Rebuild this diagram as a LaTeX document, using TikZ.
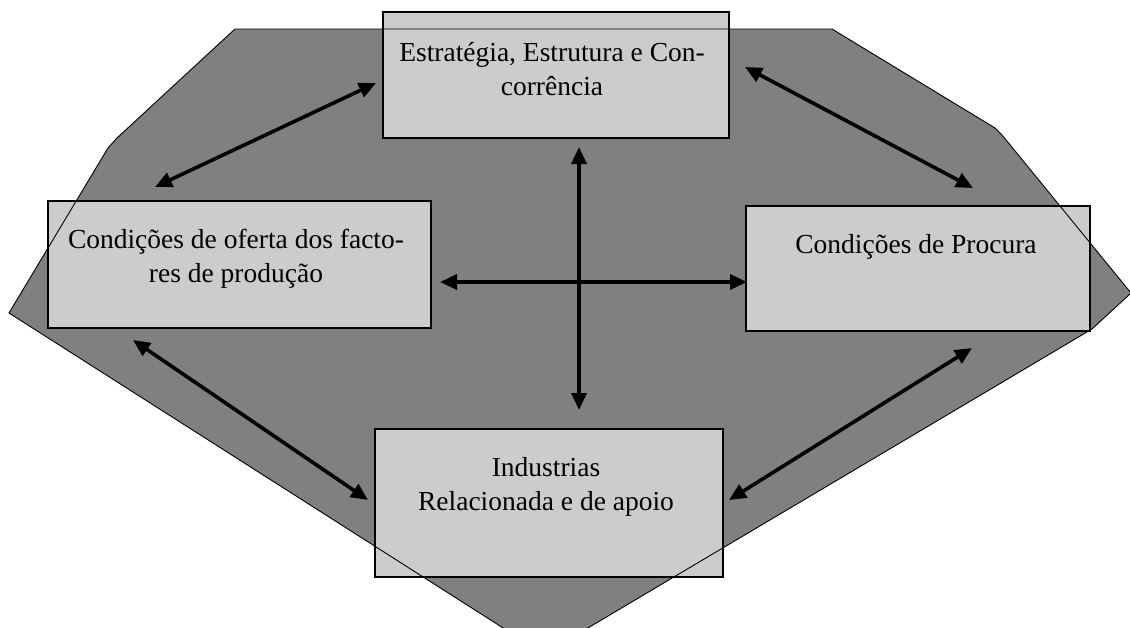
\documentclass[tikz,border=0pt]{standalone}
\usepackage{fontspec}
\setmainfont{Liberation Serif}
\usetikzlibrary{arrows.meta}
\definecolor{hexfill}{HTML}{808080}
\definecolor{boxfill}{HTML}{CCCCCC}
\begin{document}
\begin{tikzpicture}[x=1pt,y=-1pt,
  factor/.style={draw=black,line width=1.6pt,fill=boxfill,rectangle,inner sep=0pt},
  label text/.style={anchor=base,align=center,inner sep=0pt,
    font=\fontsize{27.5}{34}\selectfont},
  link/.style={line width=3.6pt,{Triangle[length=17pt,width=15pt]}-{Triangle[length=17pt,width=15pt]}},
  outline/.style={draw=black,line width=0.9pt}]
\useasboundingbox (0,0) rectangle (1130,627);
\clip (0,0) rectangle (1130,627);
\fill[white] (0,0) rectangle (1130,627);
% background shape
\def\hexpath{(235,29) -- (832,29) -- (995,128) -- (1002,135) -- (1131,293)
  -- (1092,329) -- (544,654) -- (9,313) -- (108,148) -- (117,138) -- cycle}
\fill[hexfill] \hexpath;
% the four boxes
\node[factor,minimum width=346pt,minimum height=126pt] (est) at (556,75) {};
\node[factor,minimum width=383pt,minimum height=127pt] (ofe) at (239.5,264.5) {};
\node[factor,minimum width=344pt,minimum height=125pt] (pro) at (918,268.5) {};
\node[factor,minimum width=348pt,minimum height=148pt] (ind) at (549,503) {};
% outline of the background shape, running over the boxes
\draw[outline] \hexpath;
% box texts (base = baseline of the last line)
\node[label text] (tEst) at (552,95) {Estratégia, Estrutura e Con-\\corrência};
\node[label text] (tOfe) at (236,282) {Condições de oferta dos facto-\\res de produção};
\node[label text] (tPro) at (916,253) {Condições de Procura};
\node[label text] (tInd) at (546,510) {Industrias\\Relacionada e de apoio};
% arrow end points
\coordinate (a1) at (155,187); \coordinate (b1) at (376,83);
\coordinate (a2) at (745,67);  \coordinate (b2) at (973,188);
\coordinate (a3) at (440,282); \coordinate (b3) at (747,282);
\coordinate (a4) at (579,147); \coordinate (b4) at (579,410);
\coordinate (a5) at (133,340); \coordinate (b5) at (368,500);
\coordinate (a6) at (972,348); \coordinate (b6) at (729,500);
\draw[link] (a1) -- (b1);
\draw[link] (a2) -- (b2);
\draw[link] (a3) -- (b3);
\draw[link] (a4) -- (b4);
\draw[link] (a5) -- (b5);
\draw[link] (a6) -- (b6);
\end{tikzpicture}
\end{document}
